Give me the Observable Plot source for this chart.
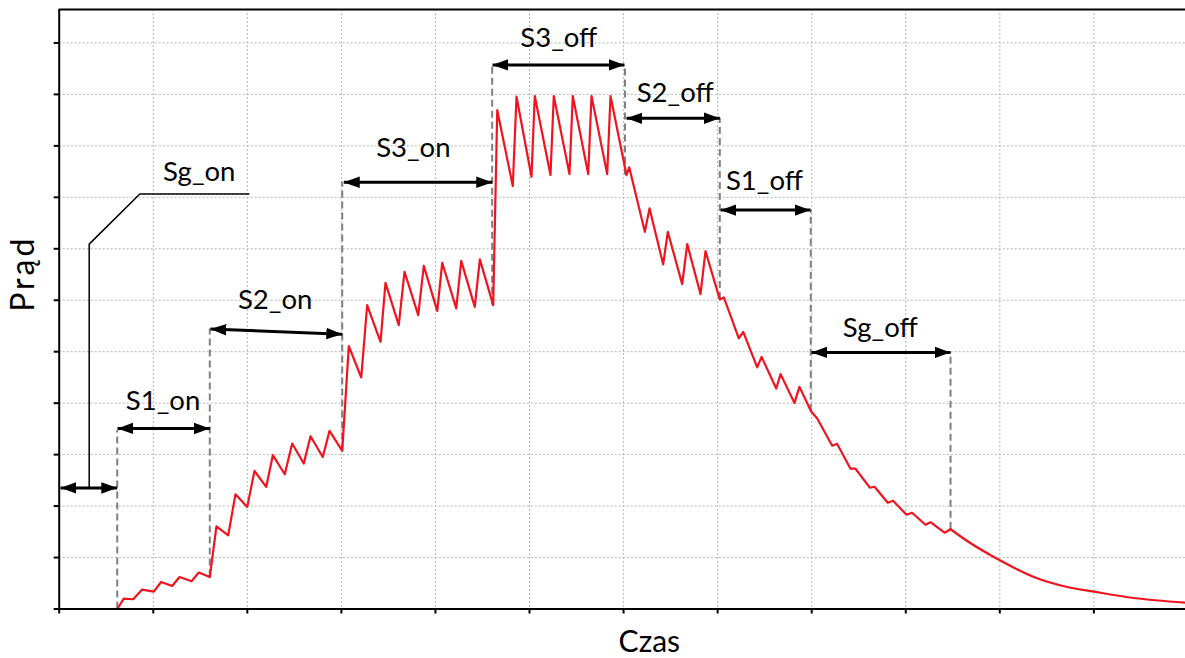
<!DOCTYPE html>
<html><head><meta charset="utf-8">
<script src="https://cdn.jsdelivr.net/npm/d3@7"></script>
<script src="https://cdn.jsdelivr.net/npm/@observablehq/plot@0.6"></script>
<style>html,body{margin:0;padding:0;background:#fff;} #chart svg{display:block;overflow:visible;}</style>
</head><body><div id="chart"></div>
<script>
// Current waveform (time in grid units, current in grid units)
const timeValues = [
  0, 0.617, 0.687, 0.787, 0.882, 1.006, 1.084, 1.201, 1.279, 1.407, 1.484, 1.601,
  1.672, 1.797, 1.874, 1.999, 2.076, 2.201, 2.271, 2.398, 2.477, 2.600, 2.672, 2.802, 2.874, 3.009,
  3.079, 3.211, 3.274, 3.416, 3.469, 3.610, 3.671, 3.817, 3.876, 4.019, 4.072, 4.221, 4.274, 4.418, 4.472, 4.614,
  4.657, 4.822, 4.862, 5.021, 5.056, 5.223, 5.258, 5.425, 5.460, 5.624, 5.659, 5.826, 5.861, 6.031,
  6.060, 6.226, 6.276, 6.421, 6.470, 6.623, 6.677, 6.818, 6.871, 7.023,
  7.066, 7.225, 7.272, 7.421, 7.467, 7.623, 7.669, 7.817, 7.870, 7.993,
  8.059, 8.218, 8.269, 8.413, 8.466, 8.618, 8.668, 8.809, 8.865, 9.008, 9.067, 9.210, 9.263, 9.412, 9.476,
  9.653, 10.000, 10.361, 10.717, 11.000, 11.425, 11.974
];
const currentValues = [
  0, 0, 0.202, 0.189, 0.377, 0.338, 0.525, 0.447, 0.622, 0.539, 0.708, 0.622,
  1.608, 1.433, 2.230, 1.983, 2.683, 2.372, 2.989, 2.619, 3.216, 2.827, 3.358, 2.955, 3.461, 3.072,
  5.108, 4.499, 5.905, 5.192, 6.339, 5.516, 6.553, 5.711, 6.669, 5.794, 6.728, 5.841, 6.766, 5.872, 6.794, 5.905,
  9.697, 8.219, 9.955, 8.400, 9.969, 8.433, 9.969, 8.452, 9.969, 8.452, 9.969, 8.452, 9.969, 8.433,
  8.583, 7.330, 7.785, 6.696, 7.330, 6.313, 7.091, 6.119, 6.955, 6.016,
  6.055, 5.258, 5.386, 4.694, 4.900, 4.285, 4.564, 4.005, 4.317, 3.844,
  3.702, 3.173, 3.212, 2.726, 2.726, 2.357, 2.376, 2.065, 2.104, 1.832, 1.870, 1.637, 1.686, 1.482, 1.550,
  1.322, 0.947, 0.622, 0.428, 0.338, 0.214, 0.124
];
// Time at which the free (smooth) decay begins, after Sg_off
const decayStart = 9.476;

const xTicks = [0, 1, 2, 3, 4, 5, 6, 7, 8, 9, 10, 11];
const yTicks = [0, 1, 2, 3, 4, 5, 6, 7, 8, 9, 10, 11];

// Switching instants (dashed markers)
const markerX    = [0.617, 1.601, 3.009, 4.603, 6.015, 7.023, 7.990, 9.476];
const markerLow  = [0,     0.622, 3.072, 5.905, 8.433, 6.016, 3.844, 1.550];
const markerHigh = [3.47,  5.44,  8.291, 10.572, 10.572, 9.535, 7.752, 4.985];

// Interval arrows
const arrowStart      = [0.014, 0.620, 1.608, 3.026, 4.607, 6.031, 7.031, 7.998];
const arrowEnd        = [0.617, 1.601, 3.009, 4.603, 6.010, 7.023, 7.987, 9.476];
const arrowLevelStart = [2.353, 3.508, 5.439, 8.291, 10.572, 9.535, 7.752, 4.985];
const arrowLevelEnd   = [2.353, 3.508, 5.341, 8.291, 10.572, 9.535, 7.752, 4.985];

// Labels
const labels = ["Sg_on", "S1_on", "S2_on", "S3_on", "S3_off", "S2_off", "S1_off", "Sg_off"];
const labelX = [1.489, 1.104, 2.296, 3.765, 5.312, 6.549, 7.498, 8.729];
const labelY = [8.316, 3.873, 5.822, 8.783, 10.928, 9.858, 8.141, 5.277];

// Sg_on leader line
const leaderX = [0.319, 0.319, 0.857, 2.016];
const leaderY = [2.353, 7.091, 8.063, 8.063];

const yTop = 11.65;

const curve = timeValues.map((t, i) => ({t, c: currentValues[i]}));
const switching = curve.filter(d => d.t <= decayStart);
const decay = curve.filter(d => d.t >= decayStart);
const markers = markerX.map((x, i) => ({x, lo: markerLow[i], hi: markerHigh[i]}));
const arrows = arrowStart.map((x1, i) => ({x1, x2: arrowEnd[i], y1: arrowLevelStart[i], y2: arrowLevelEnd[i]}));
const labelData = labels.map((s, i) => ({s, x: labelX[i], y: labelY[i]}));
const leader = leaderX.map((x, i) => ({x, y: leaderY[i]}));

const font = "Lato, 'Open Sans', sans-serif";
const red = "#f0141e";

const svg = Plot.plot({
  width: 1185,
  height: 658,
  marginLeft: 58.7,
  marginRight: 0,
  marginTop: 9,
  marginBottom: 49.5,
  style: {fontFamily: font, background: "#fff", color: "#000"},
  x: {domain: [0, 11.974]},
  y: {domain: [0, yTop]},
  marks: [
    Plot.gridX(xTicks.filter(d => d > 0), {stroke: "#b5b5b5", strokeOpacity: 1, strokeWidth: 1, strokeDasharray: "2,2"}),
    Plot.gridY(yTicks.filter(d => d > 0), {stroke: "#b5b5b5", strokeOpacity: 1, strokeWidth: 1, strokeDasharray: "2,2"}),
    Plot.ruleX(markers, {x: "x", y1: "lo", y2: "hi", stroke: "#808080", strokeWidth: 2, strokeDasharray: "7,4"}),
    Plot.line(switching, {x: "t", y: "c", stroke: red, strokeWidth: 2.2}),
    Plot.line(decay, {x: "t", y: "c", stroke: red, strokeWidth: 2.2, curve: "monotone-x"}),
    Plot.link(arrows, {x1: "x1", x2: "x2", y1: "y1", y2: "y2", stroke: "#000", strokeWidth: 3, markerStart: "arrow", markerEnd: "arrow"}),
    Plot.line(leader, {x: "x", y: "y", stroke: "#000", strokeWidth: 1.5}),
    Plot.text(labelData, {x: "x", y: "y", text: "s", fontSize: 27.5, fill: "#000", textAnchor: "middle", lineAnchor: "bottom", fontFamily: font}),
    Plot.axisX({ticks: xTicks, tickSize: 5, tickFormat: () => "", strokeWidth: 2, label: null}),
    Plot.axisY({ticks: yTicks, tickSize: 5, tickFormat: () => "", strokeWidth: 2, label: null}),
    Plot.ruleX([0], {stroke: "#000", strokeWidth: 2}),
    Plot.ruleY([0, yTop], {stroke: "#000", strokeWidth: 2}),
    Plot.text(["Czas"], {frameAnchor: "bottom", dx: 27, dy: 42.5, lineAnchor: "bottom", fontSize: 30, fill: "#000", fontFamily: font}),
    Plot.text(["Prąd"], {frameAnchor: "left", rotate: -90, dx: -25.4, dy: -35.5, lineAnchor: "bottom", textAnchor: "middle", fontSize: 32, fill: "#000", fontFamily: font, className: "ylab"})
  ]
});

// Filled arrowheads pointing outward at both ends
const NS = "http://www.w3.org/2000/svg";
svg.querySelectorAll("marker").forEach(m => {
  m.setAttribute("viewBox", "-8 -4 8 8");
  m.setAttribute("markerWidth", "5.3");
  m.setAttribute("markerHeight", "5.3");
  m.setAttribute("orient", "auto-start-reverse");
  m.setAttribute("fill", "#000");
  m.setAttribute("stroke", "none");
  while (m.firstChild) m.removeChild(m.firstChild);
  const p = document.createElementNS(NS, "path");
  p.setAttribute("d", "M-8,-2.9L0,0L-8,2.9Z");
  m.appendChild(p);
});
// Slightly wider letter spacing on the y label, as in the reference
svg.querySelectorAll(".ylab text").forEach(t => t.setAttribute("letter-spacing", "3"));

document.getElementById("chart").appendChild(svg);
</script>
</body></html>
